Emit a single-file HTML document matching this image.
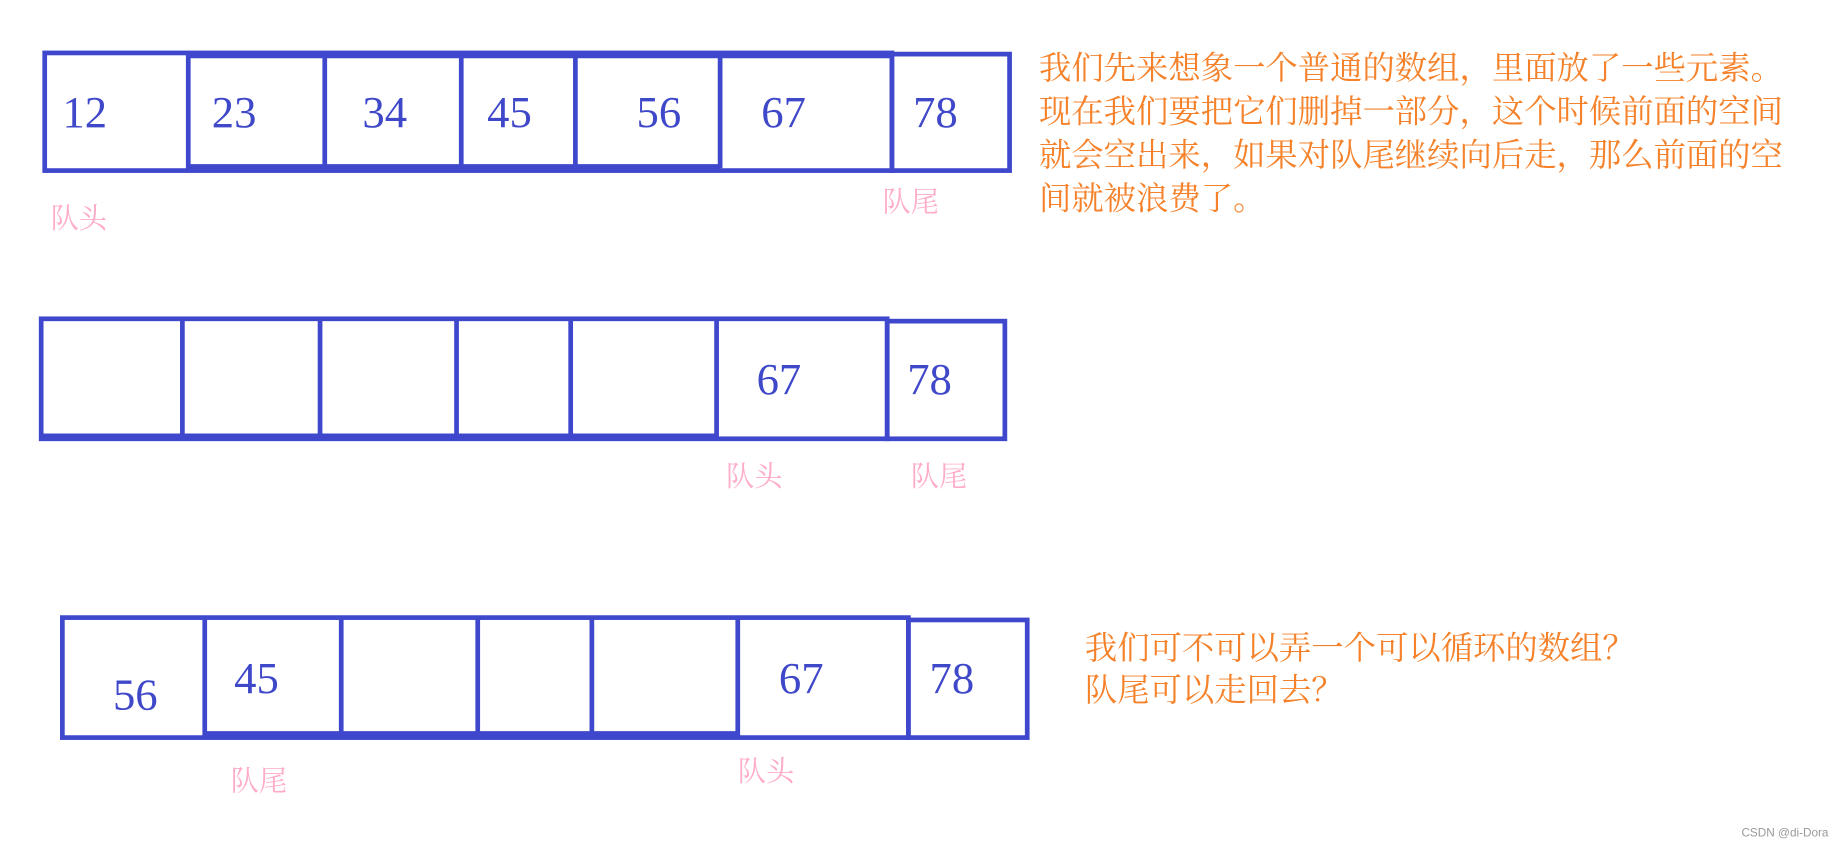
<!DOCTYPE html>
<html><head><meta charset="utf-8"><style>
html,body{margin:0;padding:0;background:#fff;width:1845px;height:847px;overflow:hidden}
svg{display:block}
.n{font-family:"Liberation Serif",serif;font-size:38px;fill:#3f48c9}
.p{font-family:"Noto Serif CJK SC",serif;font-size:24px;fill:#ffaccb}
.o{font-family:"Noto Serif CJK SC",serif;font-size:27.5px;fill:#f5822a}
</style></head><body>
<svg width="1845" height="847" viewBox="0 0 1568 720" preserveAspectRatio="none">
<g fill="none" stroke="#3f48cc" stroke-width="4">
<rect x="38" y="45" width="720" height="100"/>
<rect x="758" y="46" width="100" height="99"/>
<line x1="160" y1="45" x2="160" y2="145"/><line x1="276" y1="45" x2="276" y2="143"/>
<line x1="392" y1="45" x2="392" y2="143"/><line x1="489" y1="45" x2="489" y2="143"/>
<line x1="612" y1="45" x2="612" y2="143"/>
<line x1="160" y1="142" x2="612" y2="142" stroke-width="5"/>
<line x1="160" y1="47" x2="758" y2="47" stroke-width="5"/>
<rect x="35" y="271" width="719" height="102"/>
<rect x="754" y="273" width="100" height="100"/>
<line x1="155" y1="271" x2="155" y2="371"/><line x1="272" y1="271" x2="272" y2="371"/>
<line x1="388" y1="271" x2="388" y2="371"/><line x1="485" y1="271" x2="485" y2="371"/>
<line x1="609" y1="271" x2="609" y2="373"/>
<line x1="35" y1="371" x2="609" y2="371" stroke-width="5"/>
<rect x="53" y="525" width="719" height="102"/>
<rect x="772" y="527" width="101" height="100"/>
<line x1="174" y1="525" x2="174" y2="627"/><line x1="290" y1="525" x2="290" y2="625"/>
<line x1="406" y1="525" x2="406" y2="625"/><line x1="503" y1="525" x2="503" y2="625"/>
<line x1="627" y1="525" x2="627" y2="627"/>
<line x1="174" y1="624" x2="627" y2="624" stroke-width="5"/>
</g>
<text class="n" x="53" y="108">12</text><text class="n" x="180" y="108">23</text>
<text class="n" x="308" y="108">34</text><text class="n" x="414" y="108">45</text>
<text class="n" x="541" y="108">56</text><text class="n" x="647" y="108">67</text>
<text class="n" x="776" y="108">78</text>
<text class="p" x="43" y="194">队头</text><text class="p" x="750" y="180">队尾</text>
<text class="n" x="643" y="335">67</text><text class="n" x="771" y="335">78</text>
<text class="p" x="617" y="413">队头</text><text class="p" x="774" y="413">队尾</text>
<text class="n" x="96" y="603">56</text><text class="n" x="199" y="589">45</text>
<text class="n" x="662" y="589">67</text><text class="n" x="790" y="589">78</text>
<text class="p" x="196" y="672">队尾</text><text class="p" x="627" y="664">队头</text>
<text class="o" x="883" y="67">我们先来想象一个普通的数组，里面放了一些元素。</text>
<text class="o" x="883" y="104">现在我们要把它们删掉一部分，这个时候前面的空间</text>
<text class="o" x="883" y="141">就会空出来，如果对队尾继续向后走，那么前面的空</text>
<text class="o" x="883" y="178">间就被浪费了。</text>
<text class="o" x="922" y="560">我们可不可以弄一个可以循环的数组？</text>
<text class="o" x="922" y="596">队尾可以走回去？</text>
<text x="1480" y="711" style="font-family:'Liberation Sans',sans-serif;font-size:10px;fill:#999">CSDN @di-Dora</text>
</svg>
</body></html>
